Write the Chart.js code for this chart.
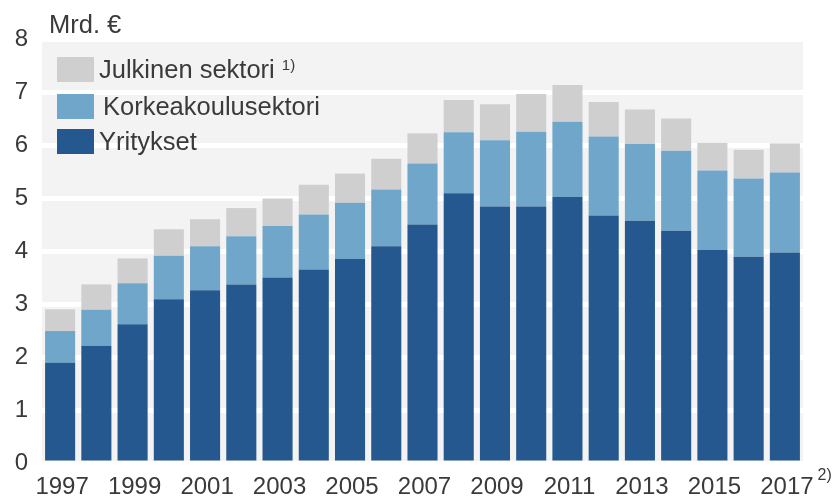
<!DOCTYPE html>
<html>
<head>
<meta charset="utf-8">
<script src="https://cdn.jsdelivr.net/npm/chart.js@4/dist/chart.umd.min.js"></script>
<style>
html,body{margin:0;padding:0;background:#fff;}
#wrap{width:840px;height:497px;}
</style>
</head>
<body>
<div id="wrap"><canvas id="c" width="840" height="497"></canvas></div>
<script>
const years = ['1997','1998','1999','2000','2001','2002','2003','2004','2005','2006','2007','2008','2009','2010','2011','2012','2013','2014','2015','2016','2017'];
const yritykset = [1.89,2.21,2.62,3.09,3.26,3.37,3.50,3.65,3.85,4.09,4.50,5.09,4.84,4.84,5.02,4.67,4.57,4.38,4.02,3.89,3.97];
const korkeakoulu = [0.60,0.68,0.77,0.82,0.83,0.91,0.97,1.04,1.06,1.07,1.15,1.15,1.25,1.41,1.42,1.49,1.45,1.51,1.50,1.48,1.51];
const julkinen = [0.41,0.48,0.47,0.50,0.51,0.53,0.52,0.56,0.55,0.58,0.57,0.61,0.68,0.71,0.69,0.65,0.65,0.61,0.52,0.54,0.55];
const seriesNames = ['Yritykset','Korkeakoulusektori','Julkinen sektori'];
const seriesNotes = ['','','1)'];
const yTicks = [0,1,2,3,4,5,6,7,8];
const unitTitle = 'Mrd. €';
const lastNote = '2)';

const colors = ['#25588f','#6fa6c9','#cfcfcf'];
const FONT = '"Liberation Sans", Arial, sans-serif';
const TEXT = '#3a3a3a';

const bgPlugin = {
  id:'bg',
  beforeDraw(chart){
    const {ctx, chartArea:a} = chart;
    ctx.save();
    ctx.fillStyle = '#f3f3f3';
    ctx.fillRect(a.left, a.top, a.right-a.left, a.bottom-a.top);
    ctx.restore();
  }
};

const overlayPlugin = {
  id:'overlay',
  afterDraw(chart){
    const ctx = chart.ctx;
    ctx.save();
    // unit title
    ctx.fillStyle = TEXT;
    ctx.font = '25.5px ' + FONT;
    ctx.textBaseline = 'alphabetic';
    ctx.textAlign = 'left';
    ctx.fillText(unitTitle, 49, 33);
    // legend (reverse order: top = last dataset)
    const boxX = 57, boxW = 37, boxH = 25;
    const rowsY = [57, 94, 129];
    const textX = [99, 103, 99];
    const ds = chart.data.datasets;
    for (let i = 0; i < ds.length; i++) {
      const idx = ds.length - 1 - i;
      const y = rowsY[i];
      ctx.fillStyle = ds[idx].backgroundColor;
      ctx.fillRect(boxX, y, boxW, boxH);
      ctx.fillStyle = TEXT;
      ctx.font = '25.5px ' + FONT;
      ctx.textBaseline = 'middle';
      const tx = textX[i];
      ctx.fillText(ds[idx].label, tx, y + boxH/2 + 1);
      const note = seriesNotes[idx];
      if (note) {
        const w = ctx.measureText(ds[idx].label + ' ').width;
        ctx.font = '15px ' + FONT;
        ctx.fillText(note, tx + w, y + boxH/2 - 4);
      }
    }
    // footnote after last x label
    const xs = chart.scales.x;
    const lx = xs.getPixelForValue(years.length - 1);
    ctx.font = '24px ' + FONT;
    const lw = ctx.measureText(years[years.length-1]).width;
    ctx.font = '16px ' + FONT;
    ctx.textBaseline = 'middle';
    ctx.fillText(lastNote, lx + lw/2 + 6, 476);
    ctx.restore();
  }
};

new Chart(document.getElementById('c'), {
  type:'bar',
  data:{
    labels: years,
    datasets:[
      {label:seriesNames[0], data:yritykset, backgroundColor:colors[0]},
      {label:seriesNames[1], data:korkeakoulu, backgroundColor:colors[1]},
      {label:seriesNames[2], data:julkinen, backgroundColor:colors[2]}
    ]
  },
  options:{
    responsive:false,
    animation:false,
    devicePixelRatio:1,
    layout:{padding:{top:39, right:37, left:0, bottom:0}},
    datasets:{bar:{categoryPercentage:1, barPercentage:0.83, borderWidth:0}},
    plugins:{legend:{display:false}, tooltip:{enabled:false}, title:{display:false}},
    scales:{
      x:{
        stacked:true,
        grid:{display:false},
        border:{display:false},
        ticks:{
          autoSkip:false, maxRotation:0, minRotation:0,
          color:TEXT, font:{family:FONT, size:24}, padding:2, labelOffset:2,
          callback:function(v,i){ return i % 2 === 0 ? years[i] : ''; }
        },
        afterFit(s){ s.height = 34; }
      },
      y:{
        stacked:true,
        min:0, max:8,
        afterBuildTicks(s){ s.ticks = yTicks.map(v=>({value:v})); },
        grid:{color:'#ffffff', lineWidth:5, drawTicks:false},
        border:{display:false},
        ticks:{color:TEXT, font:{family:FONT, size:24}, padding:14},
        afterFit(s){ s.width = 42; }
      }
    }
  },
  plugins:[bgPlugin, overlayPlugin]
});
</script>
</body>
</html>
